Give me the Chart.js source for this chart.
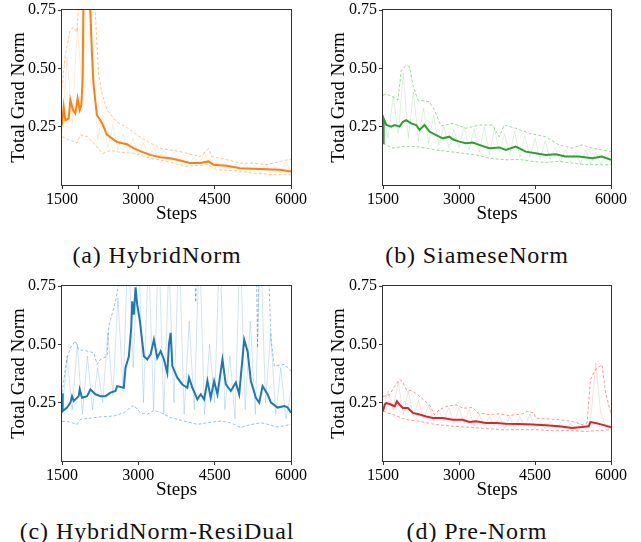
<!DOCTYPE html>
<html>
<head>
<meta charset="utf-8">
<script src="https://cdn.jsdelivr.net/npm/chart.js@4.4.1/dist/chart.umd.min.js"></script>
<style>
  body { margin: 0; background: #fff; width: 641px; height: 542px; position: relative; overflow: hidden; }
  canvas { position: absolute; }
  .cap { position: absolute; width: 320px; text-align: center; font-family: "Liberation Serif", serif;
         font-size: 24px; line-height: 24px; letter-spacing: 0.9px; color: #111; white-space: nowrap; }
</style>
</head>
<body>
<canvas id="cA" width="320" height="230" style="left:0;top:0"></canvas>
<canvas id="cB" width="321" height="230" style="left:320px;top:0"></canvas>
<canvas id="cC" width="320" height="230" style="left:0;top:276px"></canvas>
<canvas id="cD" width="321" height="230" style="left:320px;top:276px"></canvas>
<div class="cap" style="left:-3px;top:243px">(a) HybridNorm</div>
<div class="cap" style="left:317px;top:243px">(b) SiameseNorm</div>
<div class="cap" style="left:-3px;top:519px">(c) HybridNorm-ResiDual</div>
<div class="cap" style="left:317px;top:519px">(d) Pre-Norm</div>
<script>
const X_TICKS = [1500, 3000, 4500, 6000];
const Y_TICKS = [0.25, 0.50, 0.75];

// raw (unsmoothed) grad norm, sampled every 100 steps
const RAW_STEPS = [1500,1600,1700,1800,1900,2000,2100,2200,2300,2400,
                   2500,2600,2700,2800,2900,3000,3100,3200,3300,3400,
                   3500,3600,3700,3800,3900,4000,4100,4200,4300,4400,
                   4500,4600,4700,4800,4900,5000,5100,5200,5300,5400,
                   5500,5600,5700,5800,5900,6000];

// (a) HybridNorm
const hybridMainSteps = [1500,1533,1565,1631,1664,1716,1762,1807,1847,1879,1905,1925,2040,2086,2118,2185,2284,2382,2580,2775,2906,3037,3233,3430,3626,3822,4018,4214,4378,4476,4738,4999,5261,5523,5784,6000];
const hybridMain = [0.257,0.335,0.278,0.285,0.364,0.321,0.307,0.371,0.321,0.342,0.45,0.85,0.85,0.576,0.436,0.30,0.267,0.216,0.184,0.175,0.158,0.145,0.129,0.119,0.115,0.105,0.094,0.094,0.101,0.087,0.082,0.072,0.07,0.068,0.065,0.058];
const hybridUpSteps = [1500,1560,1658,1723,1790,1822,1840,2140,2151,2217,2284,2382,2580,2777,3040,3233,3430,3626,3822,4018,4214,4378,4443,4738,4999,5261,5523,5784,6000];
const hybridUp = [0.415,0.55,0.66,0.676,0.655,0.75,0.85,0.85,0.75,0.479,0.394,0.322,0.27,0.246,0.205,0.18,0.158,0.15,0.143,0.132,0.122,0.155,0.122,0.108,0.094,0.094,0.087,0.101,0.111];
const hybridLoSteps = [1500,1794,1860,2000,2118,2300,2448,2645,2906,3233,3560,3953,4345,4542,4869,5261,5653,6000];
const hybridLo = [0.207,0.18,0.215,0.207,0.18,0.135,0.148,0.14,0.136,0.115,0.101,0.08,0.087,0.065,0.062,0.051,0.044,0.044];
const hybridRaw = [0.22,0.55,0.26,0.68,0.40,0.90,0.55,0.20,0.30,0.16,
                   0.26,0.15,0.22,0.14,0.20,0.13,0.18,0.12,0.16,0.11,
                   0.15,0.11,0.14,0.10,0.13,0.09,0.12,0.09,0.14,0.08,
                   0.11,0.07,0.10,0.07,0.09,0.06,0.09,0.06,0.08,0.05,
                   0.09,0.05,0.08,0.05,0.10,0.06];

// (b) SiameseNorm
const siameseMainSteps = [1500,1513,1566,1664,1729,1828,1893,1959,2057,2155,2221,2319,2417,2548,2679,2810,2876,3007,3138,3269,3400,3596,3793,3924,4120,4317,4513,4710,4906,5103,5365,5627,5823,6000];
const siameseMain = [0.179,0.285,0.257,0.25,0.257,0.25,0.271,0.278,0.264,0.257,0.236,0.257,0.229,0.214,0.2,0.207,0.196,0.186,0.179,0.182,0.172,0.158,0.161,0.15,0.165,0.143,0.136,0.129,0.132,0.122,0.122,0.115,0.122,0.108];
const siameseUpSteps = [1500,1566,1697,1795,1860,1959,2024,2090,2188,2417,2515,2646,2876,3138,3400,3662,3793,3891,4120,4382,4710,4972,5234,5430,5627,5823,6000];
const siameseUp = [0.385,0.39,0.378,0.364,0.49,0.513,0.506,0.428,0.364,0.357,0.321,0.253,0.264,0.243,0.257,0.257,0.207,0.257,0.243,0.222,0.207,0.172,0.158,0.172,0.158,0.15,0.143];
const siameseLoSteps = [1500,1697,1893,2155,2352,2548,2810,3072,3334,3596,3924,4186,4448,4710,4972,5234,5496,5758,6000];
const siameseLo = [0.179,0.158,0.165,0.165,0.158,0.15,0.143,0.136,0.129,0.115,0.108,0.11,0.101,0.097,0.101,0.094,0.087,0.087,0.087];
const siameseRaw = [0.30,0.20,0.38,0.22,0.48,0.20,0.40,0.19,0.33,0.18,
                    0.30,0.17,0.25,0.16,0.24,0.16,0.25,0.15,0.24,0.14,
                    0.25,0.13,0.24,0.14,0.22,0.13,0.23,0.12,0.21,0.12,
                    0.20,0.11,0.19,0.11,0.16,0.10,0.15,0.10,0.14,0.09,
                    0.15,0.09,0.14,0.09,0.13,0.10];

// (c) HybridNorm-ResiDual
const resiMainSteps = [1500,1513,1599,1664,1697,1730,1828,1848,1894,1993,2058,2157,2255,2354,2453,2551,2584,2715,2748,2814,2860,2880,2912,2945,2978,3031,3109,3175,3241,3306,3372,3438,3504,3569,3602,3635,3668,3766,3865,3963,3996,4062,4160,4226,4292,4358,4423,4489,4555,4653,4719,4817,4916,4982,5080,5146,5211,5310,5376,5441,5540,5606,5737,5869,5934,6000];
const resiMain = [0.29,0.214,0.229,0.25,0.278,0.257,0.278,0.307,0.271,0.278,0.307,0.286,0.278,0.278,0.293,0.30,0.321,0.314,0.40,0.449,0.57,0.684,0.627,0.744,0.67,0.60,0.449,0.435,0.457,0.52,0.442,0.471,0.435,0.378,0.50,0.549,0.407,0.357,0.328,0.314,0.357,0.314,0.264,0.286,0.264,0.343,0.271,0.343,0.286,0.435,0.328,0.30,0.336,0.286,0.52,0.471,0.343,0.271,0.25,0.321,0.286,0.25,0.229,0.236,0.229,0.207];
const resiUpSteps = [1500,1599,1664,1763,1828,1993,2124,2190,2255,2387,2420,2551,2617,2650,4095,4128,4160,5310,5343,5376,5540,5606,5671,5869,6000];
const resiUp = [0.293,0.442,0.485,0.514,0.478,0.471,0.464,0.414,0.435,0.449,0.578,0.684,0.76,0.95,0.95,0.68,0.95,0.95,0.485,0.95,0.95,0.528,0.407,0.414,0.385];
const resiLoSteps = [1500,1599,1697,1796,1861,1993,2255,2518,2715,2847,2912,2978,3044,3175,3306,3438,3635,3898,4160,4358,4620,4817,4949,5015,5146,5409,5540,5737,6000];
const resiLo = [0.17,0.17,0.164,0.157,0.178,0.182,0.189,0.193,0.207,0.229,0.24,0.221,0.207,0.20,0.217,0.207,0.186,0.171,0.157,0.164,0.171,0.164,0.15,0.143,0.153,0.164,0.157,0.146,0.157];
const resiRaw = [0.20,0.45,0.22,0.50,0.20,0.45,0.22,0.40,0.25,0.55,
                 0.28,0.70,0.30,0.95,0.40,0.95,0.25,0.90,0.22,0.95,
                 0.20,0.85,0.25,0.95,0.20,0.60,0.22,0.95,0.20,0.50,
                 0.25,0.95,0.22,0.45,0.18,0.95,0.22,0.60,0.20,0.95,
                 0.25,0.55,0.20,0.40,0.18,0.30];

// (d) Pre-Norm
const preMainSteps = [1500,1533,1566,1664,1729,1775,1828,1893,1991,2090,2221,2352,2483,2679,2876,3072,3203,3334,3531,3727,3924,4186,4448,4710,4972,5234,5430,5561,5594,5692,5823,6000];
const preMain = [0.213,0.241,0.249,0.241,0.234,0.256,0.241,0.227,0.227,0.206,0.199,0.191,0.184,0.184,0.177,0.177,0.167,0.17,0.163,0.163,0.16,0.159,0.156,0.153,0.149,0.141,0.146,0.149,0.167,0.163,0.156,0.144];
const preUpSteps = [1500,1631,1729,1828,1880,1959,2090,2221,2417,2515,2614,2745,2941,3072,3170,3269,3367,3596,3793,3989,4251,4349,4480,4513,4710,4972,5234,5430,5528,5594,5692,5823,5889,6000];
const preUp = [0.277,0.284,0.32,0.349,0.342,0.306,0.299,0.277,0.241,0.199,0.22,0.234,0.241,0.227,0.227,0.23,0.206,0.199,0.202,0.195,0.202,0.213,0.206,0.184,0.181,0.177,0.17,0.156,0.163,0.349,0.391,0.413,0.299,0.199];
const preLoSteps = [1500,1697,1959,2221,2548,2876,3203,3531,3858,4186,4513,4841,5168,5496,5758,6000];
const preLo = [0.213,0.199,0.177,0.17,0.156,0.149,0.145,0.139,0.134,0.134,0.134,0.13,0.13,0.127,0.13,0.134];
const preRaw = [0.22,0.30,0.22,0.34,0.20,0.30,0.19,0.26,0.18,0.24,
                0.17,0.22,0.17,0.23,0.16,0.23,0.16,0.22,0.15,0.20,
                0.15,0.19,0.15,0.19,0.14,0.19,0.14,0.19,0.15,0.20,
                0.14,0.17,0.14,0.17,0.14,0.16,0.14,0.16,0.14,0.16,
                0.14,0.18,0.42,0.20,0.15,0.15];

const SERIF = '"Liberation Serif", "Times New Roman", serif';

function pts(xs, ys) {
  return xs.map((x, i) => ({ x: x, y: ys[i] }));
}

const boxPlugin = {
  id: 'box',
  afterDatasetsDraw(chart) {
    const a = chart.chartArea;
    const ctx = chart.ctx;
    ctx.save();
    ctx.strokeStyle = '#333';
    ctx.lineWidth = 1;
    const l = Math.round(a.left) - 0.5, t = Math.round(a.top) - 0.5;
    const r = Math.round(a.right) + 0.5, b = Math.round(a.bottom) + 0.5;
    ctx.strokeRect(l, t, r - l, b - t);
    ctx.restore();
  }
};

function makePanel(id, rgb, main, up, lo, raw, yWidth, rawAlpha) {
  const c = 'rgb(' + rgb + ')';
  const soft = a => 'rgba(' + rgb + ',' + a + ')';
  new Chart(document.getElementById(id), {
    type: 'line',
    data: {
      datasets: [
        { data: main, borderColor: c, borderWidth: 2 },
        { data: up, borderColor: soft(0.45), borderWidth: 1, borderDash: [3, 2] },
        { data: lo, borderColor: soft(0.45), borderWidth: 1, borderDash: [3, 2] },
        { data: raw, borderColor: soft(rawAlpha), borderWidth: 1 }
      ]
    },
    options: {
      responsive: false,
      animation: false,
      parsing: false,
      layout: { padding: { left: 0, top: 9, right: 320 - 291 + (yWidth - 62), bottom: 0 } },
      elements: { point: { radius: 0 }, line: { tension: 0, fill: false } },
      plugins: { legend: { display: false }, tooltip: { enabled: false } },
      scales: {
        x: {
          type: 'linear', min: 1500, max: 6000,
          afterBuildTicks: s => { s.ticks = X_TICKS.map(v => ({ value: v })); },
          afterFit: s => { s.height = 45; },
          ticks: { color: '#000', font: { family: SERIF, size: 16, lineHeight: 1 }, padding: 3,
                   maxRotation: 0, callback: v => String(v) },
          grid: { drawOnChartArea: false, tickLength: 4, color: '#333' },
          border: { display: false },
          title: { display: true, text: 'Steps', color: '#000',
                   font: { family: SERIF, size: 19, lineHeight: 1.2 }, padding: { top: 0, bottom: 5 } }
        },
        y: {
          min: 0, max: 0.75,
          afterBuildTicks: s => { s.ticks = Y_TICKS.map(v => ({ value: v })); },
          afterFit: s => { s.width = yWidth; },
          ticks: { color: '#000', font: { family: SERIF, size: 16, lineHeight: 1 }, padding: 2,
                   callback: v => v.toFixed(2) },
          grid: { drawOnChartArea: false, tickLength: 4, color: '#333' },
          border: { display: false },
          title: { display: true, text: 'Total Grad Norm', color: '#000',
                   font: { family: SERIF, size: 19, lineHeight: 1.2 }, padding: { top: 7.5, bottom: 0 } }
        }
      }
    },
    plugins: [boxPlugin]
  });
}

makePanel('cA', '255,127,14',
  pts(hybridMainSteps, hybridMain), pts(hybridUpSteps, hybridUp),
  pts(hybridLoSteps, hybridLo), pts(RAW_STEPS, hybridRaw), 62, 0.15);
makePanel('cB', '44,160,44',
  pts(siameseMainSteps, siameseMain), pts(siameseUpSteps, siameseUp),
  pts(siameseLoSteps, siameseLo), pts(RAW_STEPS, siameseRaw), 63, 0.15);
makePanel('cC', '31,119,180',
  pts(resiMainSteps, resiMain), pts(resiUpSteps, resiUp),
  pts(resiLoSteps, resiLo), pts(RAW_STEPS, resiRaw), 62, 0.2);
makePanel('cD', '214,39,40',
  pts(preMainSteps, preMain), pts(preUpSteps, preUp),
  pts(preLoSteps, preLo), pts(RAW_STEPS, preRaw), 63, 0.15);
</script>
</body>
</html>
